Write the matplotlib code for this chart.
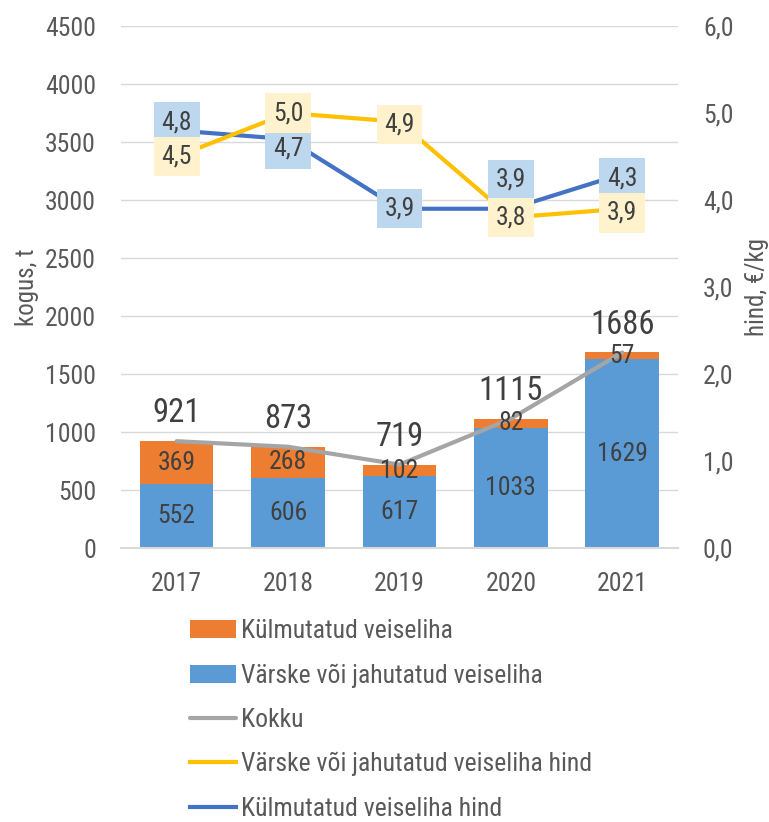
import matplotlib
matplotlib.use("Agg")
import matplotlib.pyplot as plt
import numpy as np

# data
years = ["2017", "2018", "2019", "2020", "2021"]
fresh = [552, 606, 617, 1033, 1629]           # Värske või jahutatud veiseliha, t
frozen = [369, 268, 102, 82, 57]              # Külmutatud veiseliha, t
total = [921, 873, 719, 1115, 1686]           # Kokku, t
fresh_price = [4.5, 5.0, 4.9, 3.8, 3.9]       # €/kg
frozen_price = [4.8, 4.7, 3.9, 3.9, 4.3]      # €/kg

left_ticks = list(range(0, 5000, 500))
right_ticks = [0, 1, 2, 3, 4, 5, 6]

# label nudges (points) so the boxes sit where the original puts them
fresh_off = [0, 0, -2, 0, -3]
frozen_off = [6, -7, 0, 21, -3]

plt.rcParams['font.family'] = ['Roboto Condensed', 'DejaVu Sans']

txt_col = '#404040'
axis_col = '#595959'

fig = plt.figure(figsize=(7.69, 8.22), dpi=100)
ax = fig.add_axes([0.1573, 0.3333, 0.7243, 0.635])
ax2 = ax.twinx()

x = np.arange(len(years))
b_fresh = ax.bar(x, fresh, width=0.66, color='#5B9BD5', label='Värske või jahutatud veiseliha', zorder=2)
b_frozen = ax.bar(x, frozen, bottom=fresh, width=0.66, color='#ED7D31', label='Külmutatud veiseliha', zorder=2)
l_tot, = ax.plot(x, total, color='#A5A5A5', lw=3, label='Kokku', zorder=3, solid_capstyle='round')

for b in (b_fresh, b_frozen):
    for t in ax.bar_label(b, label_type='center', fontsize=18.5, color=txt_col):
        t.set_zorder(4)

for i, v in enumerate(total):
    ax.annotate(str(v), (i, v), xytext=(0, 20), textcoords='offset points',
                ha='center', va='center', fontsize=23.5, color=txt_col, zorder=5)

l_kp, = ax2.plot(x, frozen_price, color='#4472C4', lw=3, label='Külmutatud veiseliha hind', zorder=2)
l_fp, = ax2.plot(x, fresh_price, color='#FFC000', lw=3, label='Värske või jahutatud veiseliha hind', zorder=3)

for i, v in enumerate(frozen_price):
    ax2.annotate(f"{v:.1f}".replace('.', ','), (i, v), xytext=(0, frozen_off[i]), textcoords='offset points',
                 ha='center', va='center', fontsize=18.5, color=txt_col, zorder=5,
                 bbox=dict(boxstyle='square,pad=0.3', fc='#BDD7EE', ec='none'))
for i, v in enumerate(fresh_price):
    ax2.annotate(f"{v:.1f}".replace('.', ','), (i, v), xytext=(0, fresh_off[i]), textcoords='offset points',
                 ha='center', va='center', fontsize=18.5, color=txt_col, zorder=6,
                 bbox=dict(boxstyle='square,pad=0.3', fc='#FFF2CC', ec='none'))

# axes styling
ax.set_xlim(-0.5, 4.5)
ax.set_ylim(0, 4500)
ax.set_yticks(left_ticks)
ax.set_xticks(x)
ax.set_xticklabels(years)
ax.yaxis.grid(True, color='#D9D9D9', lw=1)
ax.set_axisbelow(True)
for s in ('top', 'left', 'right'):
    ax.spines[s].set_visible(False)
ax.spines['bottom'].set_color('#D9D9D9')
ax.spines['bottom'].set_linewidth(1.5)
ax.tick_params(axis='y', length=0, labelsize=18.5, labelcolor=axis_col, pad=18)
ax.tick_params(axis='x', length=0, labelsize=18.5, labelcolor=axis_col, pad=17)
ax.set_ylabel('kogus, t', fontsize=18, color=axis_col, labelpad=4)

ax2.set_ylim(0, 6)
ax2.set_yticks(right_ticks)
ax2.set_yticklabels([f"{t:.1f}".replace('.', ',') for t in right_ticks])
for s in ax2.spines.values():
    s.set_visible(False)
ax2.tick_params(axis='y', length=0, labelsize=18.5, labelcolor=axis_col, pad=18)
ax2.set_ylabel('hind, €/kg', fontsize=18, color=axis_col, rotation=90, labelpad=8)

fig.legend(handles=[b_frozen, b_fresh, l_tot, l_fp, l_kp], loc='upper left',
           bbox_to_anchor=(190 / 769, 1 - 619 / 822), frameon=False, fontsize=18.5,
           handlelength=1.8, handletextpad=0.2, labelspacing=0.79, borderpad=0,
           borderaxespad=0, labelcolor=axis_col)

fig.savefig("out.png", dpi=100)
